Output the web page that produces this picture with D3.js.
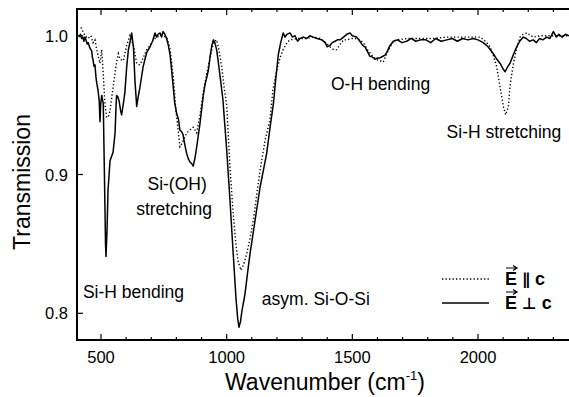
<!DOCTYPE html>
<html>
<head>
<meta charset="utf-8">
<script src="https://cdn.jsdelivr.net/npm/d3@7"></script>
<style>
  body { margin: 0; background: #fff; }
  svg { display: block; font-family: "Liberation Sans", Arial, sans-serif; }
</style>
</head>
<body>
<svg id="chart" width="569" height="397"></svg>
<script>
// spectra: [wavenumber (cm-1), transmission]
var perpC = [
  [412, 0.999], [418, 1.001], [423, 0.998], [428, 0.999], [432, 0.996], [436, 0.999], [440, 0.997],
  [445, 0.994], [449, 0.995], [456, 0.991], [463, 0.989], [466, 0.984], [468, 0.983], [472, 0.978],
  [476, 0.979], [480, 0.970], [483, 0.966], [488, 0.961], [493, 0.953], [496, 0.938], [499, 0.951],
  [503, 0.957], [506, 0.954], [509, 0.951], [514, 0.896], [518, 0.850], [520, 0.841], [524, 0.860],
  [528, 0.889], [536, 0.910], [544, 0.914], [548, 0.916], [556, 0.930], [560, 0.950], [562, 0.957],
  [567, 0.956], [572, 0.953], [578, 0.946], [582, 0.943], [588, 0.950], [595, 0.959], [602, 0.977],
  [609, 0.990], [615, 0.995], [622, 1.002], [629, 0.992], [635, 0.968], [642, 0.949], [648, 0.956],
  [655, 0.963], [668, 0.978], [682, 0.988], [695, 0.992], [705, 0.996], [715, 1.002], [721, 0.999],
  [727, 1.001], [735, 1.002], [741, 0.999], [747, 1.003], [754, 1.001], [761, 0.998], [768, 0.993],
  [775, 0.986], [786, 0.966], [793, 0.952], [801, 0.944], [808, 0.940], [814, 0.932], [820, 0.931],
  [826, 0.929], [834, 0.921], [841, 0.915], [848, 0.911], [854, 0.909], [860, 0.908], [867, 0.906],
  [874, 0.912], [881, 0.920], [894, 0.937], [907, 0.957], [914, 0.965], [921, 0.970], [928, 0.976],
  [934, 0.985], [940, 0.992], [947, 0.997], [953, 0.995], [960, 0.990], [966, 0.982], [973, 0.972],
  [985, 0.954], [1000, 0.918], [1013, 0.882], [1025, 0.846], [1037, 0.811], [1044, 0.796],
  [1049, 0.790], [1055, 0.794], [1061, 0.802], [1073, 0.814], [1083, 0.829], [1093, 0.843],
  [1113, 0.867], [1133, 0.891], [1146, 0.903], [1159, 0.915], [1172, 0.933], [1186, 0.951],
  [1196, 0.970], [1206, 0.987], [1215, 0.995], [1225, 1.002], [1232, 0.999], [1240, 1.001],
  [1252, 1.002], [1262, 0.999], [1272, 1.000], [1282, 0.996], [1292, 0.998], [1305, 0.999],
  [1318, 0.998], [1331, 1.000], [1344, 0.999], [1360, 0.998], [1379, 0.997], [1392, 0.995],
  [1400, 0.992], [1411, 0.993], [1420, 0.995], [1431, 0.996], [1441, 0.997], [1451, 0.997],
  [1465, 0.999], [1478, 1.001], [1491, 1.002], [1500, 1.000], [1517, 0.999], [1530, 0.996],
  [1541, 0.993], [1550, 0.992], [1562, 0.988], [1570, 0.985], [1577, 0.985], [1590, 0.983],
  [1600, 0.984], [1610, 0.984], [1620, 0.985], [1630, 0.986], [1637, 0.988], [1650, 0.993],
  [1663, 0.996], [1680, 0.997], [1697, 0.995], [1716, 0.996], [1735, 0.998], [1752, 0.996],
  [1772, 0.997], [1793, 0.997], [1812, 0.995], [1832, 0.998], [1853, 0.996], [1876, 0.997],
  [1898, 0.998], [1918, 0.996], [1938, 0.998], [1960, 0.997], [1981, 0.998], [2000, 0.997],
  [2021, 0.995], [2040, 0.992], [2061, 0.987], [2075, 0.983], [2088, 0.980], [2100, 0.976],
  [2108, 0.974], [2116, 0.977], [2127, 0.980], [2140, 0.986], [2154, 0.992], [2166, 0.996],
  [2180, 0.999], [2192, 0.998], [2205, 0.996], [2220, 0.997], [2232, 0.995], [2245, 0.998],
  [2258, 0.997], [2273, 0.999], [2286, 0.998], [2300, 1.003], [2312, 0.999], [2322, 1.001],
  [2335, 0.999], [2348, 1.001], [2362, 1.000]
];

var parC = [
  [420, 1.006], [436, 1.000], [448, 0.998], [460, 1.000], [468, 0.995], [476, 0.997], [483, 0.990],
  [489, 0.985], [496, 0.980], [503, 0.990], [509, 0.972], [516, 0.950], [523, 0.941], [530, 0.942],
  [536, 0.946], [549, 0.964], [562, 0.981], [569, 0.987], [576, 0.983], [589, 0.982], [602, 0.993],
  [615, 1.000], [629, 0.993], [642, 0.980], [655, 0.979], [668, 0.984], [682, 0.990], [695, 0.993],
  [708, 0.997], [722, 0.999], [740, 1.000], [761, 0.999], [768, 0.995], [775, 0.990], [788, 0.970],
  [798, 0.946], [808, 0.930], [814, 0.920], [821, 0.922], [828, 0.925], [841, 0.930], [854, 0.932],
  [867, 0.934], [874, 0.932], [881, 0.930], [894, 0.943], [907, 0.959], [921, 0.973], [934, 0.984],
  [947, 0.995], [960, 0.997], [969, 0.990], [980, 0.978], [989, 0.964], [1000, 0.950],
  [1013, 0.906], [1025, 0.874], [1037, 0.849], [1046, 0.837], [1057, 0.831], [1069, 0.836],
  [1080, 0.843], [1093, 0.854], [1106, 0.867], [1117, 0.882], [1133, 0.903], [1153, 0.925],
  [1172, 0.939], [1184, 0.961], [1199, 0.975], [1212, 0.984], [1225, 0.990], [1240, 0.995],
  [1252, 0.997], [1285, 0.998], [1318, 0.998], [1345, 0.999], [1371, 0.998], [1392, 0.995],
  [1411, 0.992], [1425, 0.990], [1438, 0.990], [1452, 0.994], [1465, 0.997], [1478, 0.997],
  [1498, 0.998], [1517, 0.998], [1530, 0.997], [1544, 0.995], [1560, 0.990], [1577, 0.986],
  [1595, 0.983], [1610, 0.982], [1623, 0.981], [1637, 0.987], [1650, 0.992], [1664, 0.996],
  [1677, 0.997], [1720, 0.998], [1769, 0.998], [1820, 0.998], [1876, 0.999], [1940, 0.999],
  [2008, 0.999], [2030, 0.996], [2048, 0.992], [2062, 0.985], [2074, 0.978], [2088, 0.963],
  [2101, 0.949], [2110, 0.943], [2121, 0.949], [2127, 0.963], [2134, 0.972], [2141, 0.980],
  [2154, 0.991], [2167, 0.999], [2180, 1.001], [2194, 1.002], [2220, 0.999], [2250, 1.000],
  [2287, 1.000], [2320, 1.000], [2362, 1.000]
];

var xMajor = [500, 1000, 1500, 2000];
var xMinor = d3.range(400, 2400, 100);
var yMajor = [0.8, 0.9, 1.0];

var notes = [
  { text: "Si-(OH)", wn: 685, t: 0.889 },
  { text: "stretching", wn: 640, t: 0.871 },
  { text: "Si-H bending", wn: 428, t: 0.811 },
  { text: "asym. Si-O-Si", wn: 1140, t: 0.806 },
  { text: "O-H bending", wn: 1415, t: 0.961 },
  { text: "Si-H stretching", wn: 1875, t: 0.926 }
];

(function () {
  var svg = d3.select("#chart");
  var left = 77, plotTop = 9, bottom = 340;

  var x = d3.scaleLinear().domain([500, 2000]).range([101, 478]);
  var y = d3.scaleLinear().domain([0.8, 1.0]).range([313.3, 35.7]);
  var xLo = x.invert(left);

  svg.append("clipPath").attr("id", "plot")
    .append("rect").attr("x", left).attr("y", plotTop)
    .attr("width", 569 - left).attr("height", bottom - plotTop);

  // ticks (all pointing inward)
  var ticks = svg.append("g").attr("stroke", "#000").attr("stroke-width", 1.2);
  xMinor.filter(function (v) { return v > xLo && xMajor.indexOf(v) < 0; }).forEach(function (v) {
    ticks.append("line").attr("x1", x(v)).attr("x2", x(v)).attr("y1", bottom).attr("y2", bottom - 3);
    ticks.append("line").attr("x1", x(v)).attr("x2", x(v)).attr("y1", plotTop).attr("y2", plotTop + 3);
  });
  xMajor.forEach(function (v) {
    ticks.append("line").attr("x1", x(v)).attr("x2", x(v)).attr("y1", bottom).attr("y2", bottom - 6);
    ticks.append("line").attr("x1", x(v)).attr("x2", x(v)).attr("y1", plotTop).attr("y2", plotTop + 6);
  });
  yMajor.forEach(function (v) {
    ticks.append("line").attr("x1", left).attr("x2", left + 6).attr("y1", y(v)).attr("y2", y(v));
  });

  // tick labels
  svg.append("g").selectAll("text").data(xMajor).enter().append("text")
    .attr("x", function (d) { return x(d); }).attr("y", 363)
    .attr("text-anchor", "middle").attr("font-size", 16.5).text(function (d) { return d; });
  svg.append("g").selectAll("text").data(yMajor).enter().append("text")
    .attr("x", 68).attr("y", function (d) { return y(d) + 6; })
    .attr("text-anchor", "end").attr("font-size", 16.5).text(function (d) { return d3.format(".1f")(d); });

  // frame (left, top, bottom; right side falls off the picture)
  svg.append("path")
    .attr("d", "M569," + plotTop + "H" + left + "V" + bottom + "H569")
    .attr("fill", "none").attr("stroke", "#000").attr("stroke-width", 2);

  // curves
  var line = d3.line()
    .x(function (d) { return x(d[0]); })
    .y(function (d) { return y(d[1]); });

  var plot = svg.append("g").attr("clip-path", "url(#plot)");
  plot.append("path").datum(parC).attr("d", line)
    .attr("fill", "none").attr("stroke", "#000").attr("stroke-width", 1.4)
    .attr("stroke-dasharray", "1.3 2.2");
  plot.append("path").datum(perpC).attr("d", line)
    .attr("fill", "none").attr("stroke", "#000").attr("stroke-width", 1.5)
    .attr("stroke-linejoin", "round");

  // band labels
  svg.append("g").selectAll("text").data(notes).enter().append("text")
    .attr("x", function (d) { return x(d.wn); })
    .attr("y", function (d) { return y(d.t); })
    .attr("font-size", 17.5).text(function (d) { return d.text; });

  // axis titles
  var xt = svg.append("text").attr("x", 225).attr("y", 390).attr("font-size", 23);
  xt.append("tspan").text("Wavenumber (cm");
  xt.append("tspan").attr("font-size", 13).attr("dy", -10).text("-1");
  xt.append("tspan").attr("dy", 10).text(")");

  svg.append("text")
    .attr("transform", "translate(30,182) rotate(-90)")
    .attr("text-anchor", "middle").attr("font-size", 23).text("Transmission");

  // legend
  var legend = [
    { sym: "\u2225", dash: "1.3 2.2", y: 279 },
    { sym: "\u22A5", dash: null, y: 303 }
  ];
  var lg = svg.append("g");
  legend.forEach(function (d) {
    lg.append("line").attr("x1", 442).attr("x2", 489).attr("y1", d.y).attr("y2", d.y)
      .attr("stroke", "#000").attr("stroke-width", d.dash ? 1.4 : 1.5)
      .attr("stroke-dasharray", d.dash);
    var t = lg.append("text").attr("x", 505).attr("y", d.y + 6)
      .attr("font-size", 18).attr("font-weight", "bold").attr("fill", "#000");
    t.append("tspan").text("E");
    t.append("tspan").attr("dx", 5).attr("font-family", "'DejaVu Sans'")
      .attr("font-weight", "bold").attr("font-size", 16).attr("fill", "#000").text(d.sym);
    t.append("tspan").attr("dx", 5).text("c");
    // vector arrow over the E
    lg.append("path")
      .attr("d", "M506," + (d.y - 11) + "H516M513," + (d.y - 13.5) + "L517," + (d.y - 11) + "L513," + (d.y - 8.5))
      .attr("fill", "none").attr("stroke", "#000").attr("stroke-width", 1.2);
  });
})();
</script>
</body>
</html>
